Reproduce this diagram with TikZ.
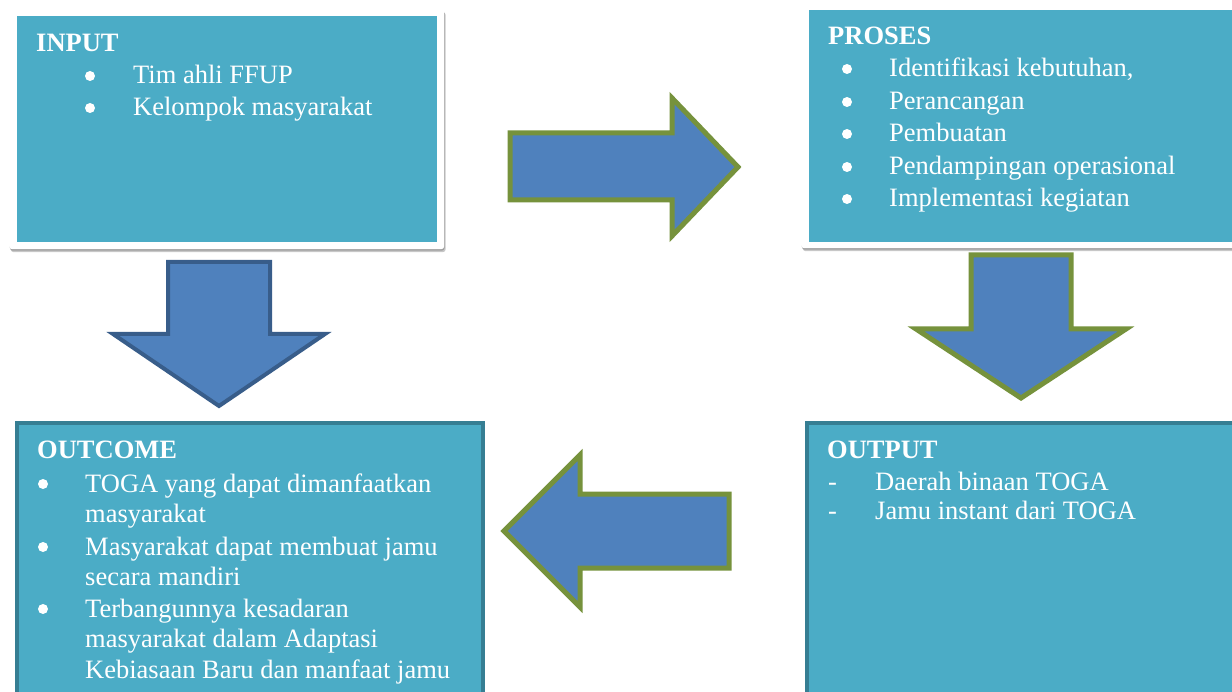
\documentclass[tikz,border=0pt]{standalone}
\usepackage{fontspec}
\setmainfont{Liberation Serif}
\usetikzlibrary{shadows}
\definecolor{boxteal}{HTML}{4BACC6}
\definecolor{boxedge}{HTML}{367E93}
\definecolor{arrowfill}{HTML}{4F81BD}
\definecolor{olive}{HTML}{76923C}
\definecolor{navyedge}{HTML}{385D8A}
\tikzset{
  txt/.style={anchor=base west, inner sep=0pt, text=white, font=\fontsize{26.5}{33}\selectfont},
  ttl/.style={anchor=base west, inner sep=0pt, text=white, font=\fontsize{26.5}{33}\selectfont\bfseries},
  dot/.style={circle, fill=white, inner sep=0pt, minimum size=10pt},
  frame/.style={anchor=north west, inner sep=0pt, fill=white, rounded corners=3pt,
    drop shadow={shadow xshift=1.5pt, shadow yshift=-3pt, opacity=0.22, fill=black},
    drop shadow={shadow xshift=0.5pt, shadow yshift=-1.5pt, opacity=0.2, fill=black}},
  tealbox/.style={anchor=north west, inner sep=0pt, fill=boxteal},
  edgebox/.style={anchor=north west, inner sep=0pt, fill=boxteal, draw=boxedge, line width=4pt},
  oarrow/.style={fill=arrowfill, draw=olive, line width=5pt, line join=miter},
  barrow/.style={fill=arrowfill, draw=navyedge, line width=4pt, line join=miter}
}
\begin{document}
\begin{tikzpicture}[x=1pt,y=-1pt]
\useasboundingbox (0,0) rectangle (1232,692);
\clip (0,0) rectangle (1232,692);
\fill[white] (0,0) rectangle (1232,692);

% INPUT box
\node[frame, minimum width=435pt, minimum height=240pt] (inframe) at (9,9) {};
\node[tealbox, minimum width=420pt, minimum height=226pt] (input) at (17,16) {};
% PROSES box
\node[frame, minimum width=440pt, minimum height=246pt] (prframe) at (801,2) {};
\node[tealbox, minimum width=430pt, minimum height=232pt] (proses) at (809,10) {};
% OUTCOME box
\node[edgebox, minimum width=466pt, minimum height=290pt] (outcome) at (15,421) {};
% OUTPUT box
\node[edgebox, minimum width=440pt, minimum height=290pt] (output) at (805,421) {};

% Arrows
\draw[oarrow] (510,133) -- (672,133) -- (672,98) -- (738,167) -- (672,236) -- (672,200) -- (510,200) -- cycle;
\draw[barrow] (168,262) -- (270,262) -- (270,334) -- (325,334) -- (219,406) -- (113,334) -- (168,334) -- cycle;
\draw[oarrow] (971,255) -- (1071,255) -- (1071,329) -- (1126,329) -- (1021,398) -- (916,329) -- (971,329) -- cycle;
\draw[oarrow] (504,531) -- (580,455) -- (580,494) -- (729,494) -- (729,568) -- (580,568) -- (580,607) -- cycle;

% INPUT text
\node[ttl] (inT) at (36,52) {INPUT};
\node[dot] (inB1) at (90,76) {};
\node[txt] (in1) at (133,84) {Tim ahli FFUP};
\node[dot] (inB2) at (90,108) {};
\node[txt] (in2) at (133,116) {Kelompok masyarakat};

% PROSES text
\node[ttl] (prT) at (828,45) {PROSES};
\node[dot] (prB1) at (847,69) {};
\node[txt] (pr1) at (889,77) {Identifikasi kebutuhan,};
\node[dot] (prB2) at (847,102) {};
\node[txt] (pr2) at (889,110) {Perancangan};
\node[dot] (prB3) at (847,134) {};
\node[txt] (pr3) at (889,142) {Pembuatan};
\node[dot] (prB4) at (847,167) {};
\node[txt] (pr4) at (889,175) {Pendampingan operasional};
\node[dot] (prB5) at (847,199) {};
\node[txt] (pr5) at (889,207) {Implementasi kegiatan};

% OUTCOME text
\node[ttl] (ocT) at (37,459) {OUTCOME};
\node[dot] (ocB1) at (43,484) {};
\node[txt] (oc1a) at (85,492) {TOGA yang dapat dimanfaatkan};
\node[txt] (oc1b) at (85,522) {masyarakat};
\node[dot] (ocB2) at (43,547) {};
\node[txt] (oc2a) at (85,555) {Masyarakat dapat membuat jamu};
\node[txt] (oc2b) at (85,585) {secara mandiri};
\node[dot] (ocB3) at (43,609) {};
\node[txt] (oc3a) at (85,617) {Terbangunnya kesadaran};
\node[txt] (oc3b) at (85,647) {masyarakat dalam Adaptasi};
\node[txt] (oc3c) at (85,678) {Kebiasaan Baru dan manfaat jamu};

% OUTPUT text
\node[ttl] (otT) at (827,459) {OUTPUT};
\node[txt] (otD1) at (828,490) {-};
\node[txt] (ot1) at (875,490) {Daerah binaan TOGA};
\node[txt] (otD2) at (828,519) {-};
\node[txt] (ot2) at (875,519) {Jamu instant dari TOGA};
\end{tikzpicture}
\end{document}
